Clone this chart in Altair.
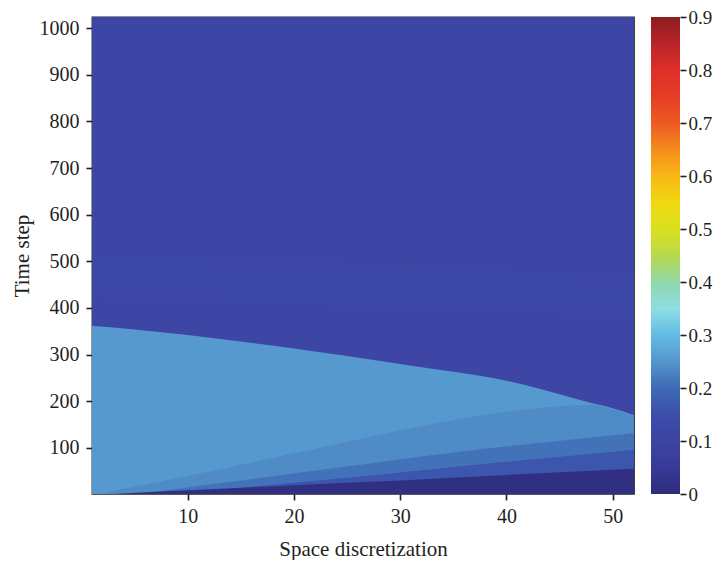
import altair as alt
import pandas as pd

# ---- colour bar (jet-like) ----
cb_stops = [0, 0.05, 0.1, 0.15, 0.2, 0.25, 0.3, 0.35, 0.4, 0.45, 0.5,
            0.55, 0.6, 0.65, 0.7, 0.75, 0.8, 0.85, 0.9]
cb_colors = ["#2d2b7a", "#383a98", "#3d43a2", "#3c4eaa", "#3d6ab4", "#5596cd",
             "#62bde4", "#8ddde3", "#8fd8a8", "#b7d94c", "#dbe01e", "#f0d810",
             "#f8b716", "#f48c1c", "#ec5a22", "#e43d26", "#df2f29", "#b8242a",
             "#8a1d1e"]
cb_ticks = [0, 0.1, 0.2, 0.3, 0.4, 0.5, 0.6, 0.7, 0.8, 0.9]

x_ticks = [10, 20, 30, 40, 50]
y_ticks = [100, 200, 300, 400, 500, 600, 700, 800, 900, 1000]

# ---- regions of the field: (space positions, upper time boundary, value) ----
bg_s = [1, 52]
bg_t = [1024, 1024]
bg_v = 0.112

band1_s = [1, 10, 20, 30, 40, 52]
band1_t = [518, 512, 505, 495, 485, 470]
band1_v = 0.12

band2_s = [1, 10, 20, 30, 40, 52]
band2_t = [420, 412, 404, 396, 388, 378]
band2_v = 0.112

light_s = [1, 5, 10, 15, 20, 25, 30, 35, 40, 45, 48, 50, 52]
light_t = [362, 354, 342, 328, 313, 297, 280, 263, 244, 215, 196, 185, 170]
light_v = 0.254

wedge_s = [2, 10, 18, 26, 34, 42, 46, 48, 50, 52]
wedge_t = [3, 40, 78, 118, 155, 183, 191, 192, 183, 168]
wedge_v = 0.238

mid_s = [6, 15, 25, 35, 45, 52]
mid_t = [3, 30, 60, 90, 115, 132]
mid_v = 0.21

low_s = [10, 20, 30, 40, 52]
low_t = [3, 25, 47, 70, 96]
low_v = 0.165

navy_s = [3, 10, 20, 30, 40, 52]
navy_t = [1, 9, 20, 30, 42, 55]
navy_v = 0.012

FONT = "Liberation Serif"
INK = "#231f20"

xscale = alt.Scale(domain=[1, 52], nice=False, zero=False)
yscale = alt.Scale(domain=[1, 1024], nice=False, zero=False)
cscale = alt.Scale(domain=cb_stops, range=cb_colors, interpolate="rgb")

xaxis = alt.Axis(values=x_ticks, title="Space discretization", titlePadding=12,
                 labelPadding=6, format="d")
yaxis = alt.Axis(values=y_ticks, title="Time step", titlePadding=7,
                 labelPadding=7, format="d")
legend = alt.Legend(orient="none", legendX=559, legendY=0, direction="vertical",
                    gradientLength=477, gradientThickness=29, title=None,
                    labelExpr="''", gradientStrokeWidth=0, padding=0,
                    values=cb_ticks)


def region(s, t, v):
    df = pd.DataFrame({"s": s, "t": t})
    df["b"] = 1
    df["v"] = v
    return alt.Chart(df).mark_area(interpolate="monotone").encode(
        x=alt.X("s:Q", scale=xscale, axis=xaxis),
        y=alt.Y("t:Q", scale=yscale, axis=yaxis),
        y2="b:Q",
        color=alt.Color("v:Q", scale=cscale, legend=legend),
    )


field = alt.layer(
    region(bg_s, bg_t, bg_v),
    region(band1_s, band1_t, band1_v),
    region(band2_s, band2_t, band2_v),
    region(light_s, light_t, light_v),
    region(wedge_s, wedge_t, wedge_v),
    region(mid_s, mid_t, mid_v),
    region(low_s, low_t, low_v),
    region(navy_s, navy_t, navy_v),
)

ticks = alt.Chart(pd.DataFrame({"tv": cb_ticks})).mark_point(opacity=0).encode(
    x=alt.value(0),
    y=alt.Y("tv:Q", scale=alt.Scale(domain=[0, 0.9], nice=False, zero=False),
            axis=alt.Axis(orient="right", offset=46, values=cb_ticks, title=None,
                          labelExpr="datum.value == 0 ? '0' : format(datum.value, '.1f')",
                          labelPadding=2, labelFontSize=19)),
)

chart = alt.layer(field, ticks).resolve_scale(y="independent").properties(
    width=542, height=477, background="white",
    autosize=alt.AutoSizeParams(type="none"),
    padding={"left": 84, "top": 9, "right": 80, "bottom": 66},
).configure_view(stroke=INK, strokeWidth=1.3).configure_axis(
    labelFont=FONT, labelFontSize=20, labelColor=INK,
    titleFont=FONT, titleFontSize=21, titleFontWeight="normal", titleColor=INK,
    tickColor=INK, tickWidth=1.6, tickSize=6, domain=False, grid=False,
)

chart.save("out.html", embed_options={"renderer": "svg", "actions": False})
